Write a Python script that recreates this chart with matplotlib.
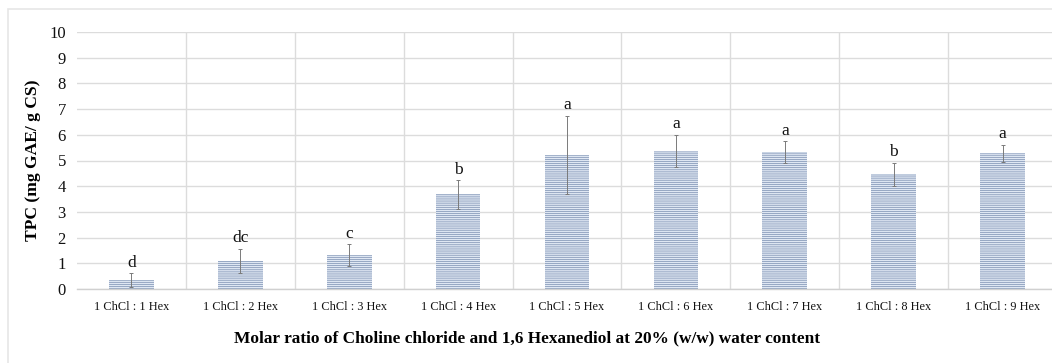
import matplotlib
matplotlib.use("Agg")
import matplotlib.pyplot as plt
from matplotlib.patches import Rectangle

categories = ["1 ChCl : 1 Hex", "1 ChCl : 2 Hex", "1 ChCl : 3 Hex", "1 ChCl : 4 Hex",
              "1 ChCl : 5 Hex", "1 ChCl : 6 Hex", "1 ChCl : 7 Hex", "1 ChCl : 8 Hex",
              "1 ChCl : 9 Hex"]
tpc = [0.35, 1.09, 1.32, 3.68, 5.21, 5.38, 5.32, 4.46, 5.28]
err = [0.26, 0.48, 0.42, 0.55, 1.52, 0.62, 0.42, 0.44, 0.33]
letters = ["d", "dc", "c", "b", "a", "a", "a", "b", "a"]
yticks = list(range(0, 11))

W, H = 1052, 363
plt.rcParams['font.family'] = ['Liberation Serif', 'DejaVu Serif']
plt.rcParams['hatch.linewidth'] = 0.45
plt.rcParams['hatch.color'] = '#6f84a8'

fig = plt.figure(figsize=(W / 100, H / 100), dpi=100)
fig.patch.set_facecolor('white')

# outer chart border
fig.patches.append(Rectangle((8 / W, -0.05), 1.1, 1 - 9 / H + 0.05,
                             transform=fig.transFigure, fill=False,
                             edgecolor='#e6e6e6', linewidth=1.2))

left, right, bottom, top = 77, 1057, 289, 32
ax = fig.add_axes([left / W, 1 - bottom / H, (right - left) / W, (bottom - top) / H])
ax.set_facecolor('none')

x = [i + 0.5 for i in range(len(categories))]
ax.bar(x, tpc, width=0.41, color='#dfe7f3', linewidth=0,
       hatch='--------', zorder=2)
for b in ax.patches:
    b.set_edgecolor('#6f84a8')
    b.set_linewidth(0)
ax.errorbar(x, tpc, yerr=err, fmt='none', ecolor='#7a7a7a', elinewidth=0.7,
            capsize=1.5, capthick=0.7, zorder=3)
for xi, v, e, l in zip(x, tpc, err, letters):
    ax.text(xi, v + e + 0.1, l, ha='center', va='bottom', fontsize=12.5, color='#111111')

ax.set_xlim(0, 9)
ax.set_ylim(0, 10)
ax.set_yticks(yticks)
ax.set_yticklabels([str(t) for t in yticks], fontsize=12)
ax.set_xticks(x)
ax.set_xticklabels(categories, fontsize=8.8)
ax.tick_params(axis='both', length=0, colors='#111111')
ax.tick_params(axis='x', pad=9)
ax.tick_params(axis='y', pad=8)
for s in ['left', 'right', 'top']:
    ax.spines[s].set_visible(False)
ax.spines['bottom'].set_color('#d0d0d0')
ax.spines['bottom'].set_linewidth(1.0)
ax.yaxis.grid(True, color='#dcdcdc', linewidth=1.0, zorder=0)
for k in range(1, 10):
    ax.axvline(k, color='#dcdcdc', linewidth=1.0, zorder=0)
ax.set_axisbelow(True)

fig.text(33 / W, 1 - 160 / H, "TPC (mg GAE/ g CS)", rotation=90, ha='center', va='center',
         fontsize=12.6, fontweight='bold')
fig.text(527 / W, 1 - 338 / H,
         "Molar ratio of Choline chloride and 1,6 Hexanediol at 20% (w/w) water content",
         ha='center', va='center', fontsize=12.4, fontweight='bold')

fig.savefig("out.png", dpi=100)
